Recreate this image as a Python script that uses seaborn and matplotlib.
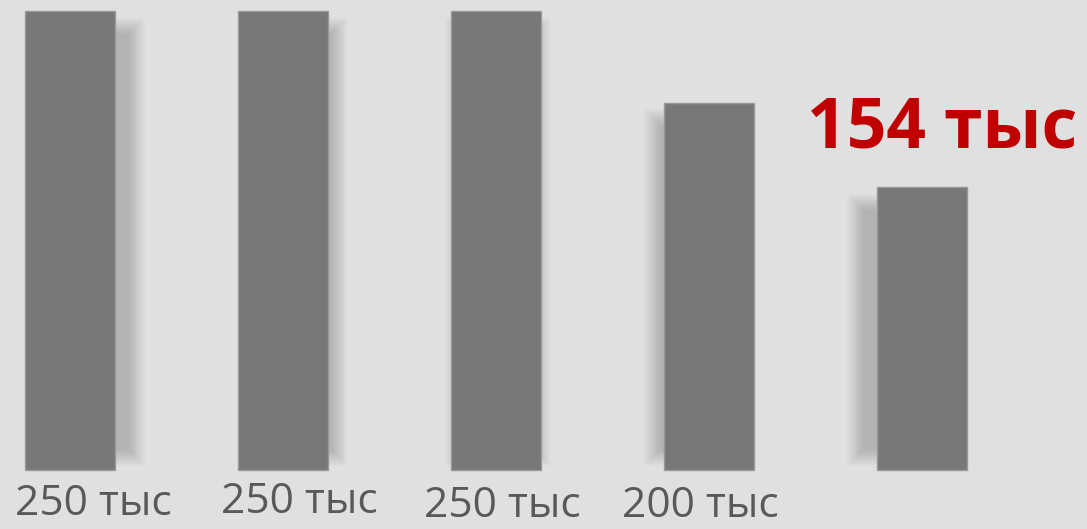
import pandas as pd
import matplotlib.pyplot as plt
import seaborn as sns

# values in thousands
categories = ["1", "2", "3", "4", "5"]
values = [250, 250, 250, 200, 154]
labels = ["250 тыс", "250 тыс", "250 тыс", "200 тыс", "154 тыс"]

df = pd.DataFrame({"cat": categories, "value": values})

sns.set_theme(style="white")
plt.rcParams["font.family"] = ["Open Sans", "DejaVu Sans"]

bg = "#e0e0e0"
fig = plt.figure(figsize=(10.87, 5.29), dpi=100, facecolor=bg)
ax = fig.add_axes([0, 0, 1, 1])
ax.set_facecolor(bg)

bar_w = 0.423
sns.barplot(data=df, x="cat", y="value", color="#787878", width=bar_w,
            saturation=1, edgecolor="#999999", linewidth=1.0, ax=ax, zorder=3)

# soft shadows behind the bars (light from the middle)
px = 1 / 212.9          # one pixel in x data units
py = 1 / 1.836          # one pixel in y data units
shift = [22, 12, 2, -12, -22]
for i, v in enumerate(values):
    cx = i + shift[i] * px
    for k in range(12):
        grow = (k - 6) * 1.5
        w = bar_w + 2 * grow * px
        top = v - (14 - grow) * py
        bot = (12 - grow) * py
        ax.bar(cx, top - bot, bottom=bot, width=w, color="#000000",
               alpha=0.014, linewidth=0, zorder=1)

# category labels under the bars
dx = [0.108, 0.075, 0.03, -0.04]
ly = [-24.5, -23.5, -25.6, -25.6]
for i in range(4):
    ax.text(i + dx[i], ly[i], labels[i], ha="center", va="baseline",
            fontsize=30.5, color="#595959", zorder=4)

# highlighted last value
ax.text(4 + 0.096, 175.4, labels[4], ha="center", va="baseline",
        fontsize=50, fontweight="bold", color="#c00000", zorder=4)

ax.set_xlim(-0.329, 4.777)
ax.set_ylim(-32.1, 256.0)
ax.axis("off")

fig.savefig("out.png", dpi=100, facecolor=bg)
